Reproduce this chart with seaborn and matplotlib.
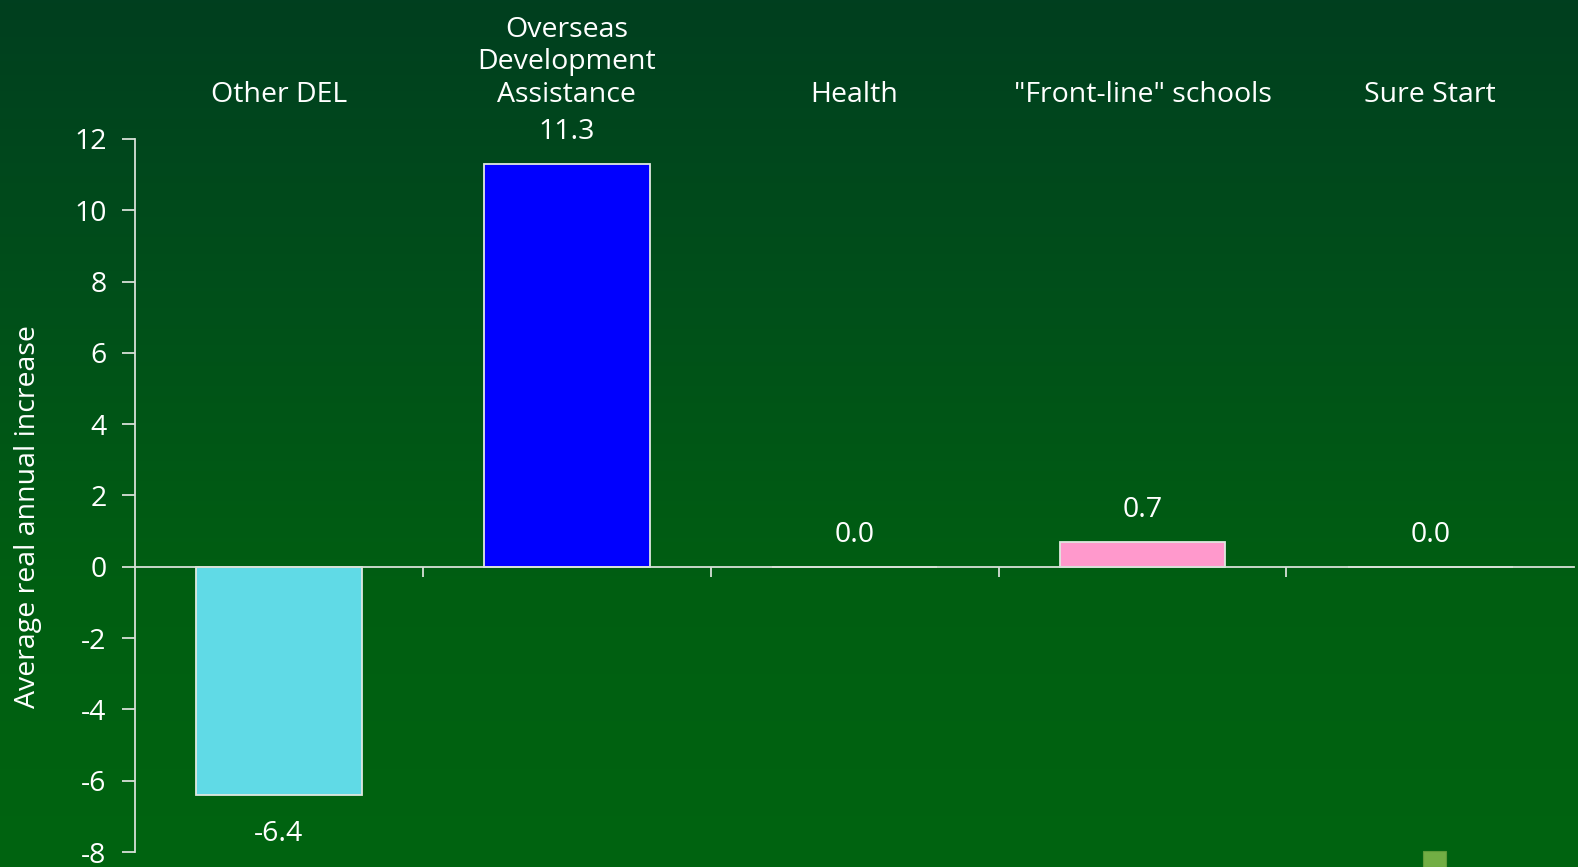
import matplotlib
matplotlib.use("Agg")
import matplotlib.pyplot as plt
import matplotlib.patches as mpatches
from matplotlib.colors import LinearSegmentedColormap
from matplotlib.ticker import FixedLocator, NullFormatter
import numpy as np
import pandas as pd
import seaborn as sns

# --- data ---
categories = ["Other DEL", "Overseas\nDevelopment\nAssistance", "Health",
              "\"Front-line\" schools", "Sure Start"]
values = [-6.4, 11.3, 0.0, 0.7, 0.0]
bar_colors = ["#60dae6", "#0000ff", "#60dae6", "#ff99cc", "#60dae6"]
y_ticks = [-8, -6, -4, -2, 0, 2, 4, 6, 8, 10, 12]

sns.set_style("white")
plt.rcParams["font.family"] = ["Open Sans", "DejaVu Sans"]
plt.rcParams["text.color"] = "white"

FS = 20.5
AXC = "#d8e0d8"

df = pd.DataFrame({"category": categories, "value": values})

fig = plt.figure(figsize=(15.78, 8.67), dpi=100)

# background gradient (dark green top -> brighter green bottom)
bg = fig.add_axes([0, 0, 1, 1], zorder=-10)
grad_cmap = LinearSegmentedColormap.from_list(
    "bg", ["#003f1f", "#004f1a", "#005e12", "#006410"])
bg.imshow(np.linspace(0, 1, 256).reshape(-1, 1), aspect="auto",
          cmap=grad_cmap, extent=[0, 1, 0, 1], origin="upper")
bg.set_axis_off()

ax = fig.add_axes([0.0856, 0.0173, 0.912, 0.8224])
ax.patch.set_alpha(0)

sns.barplot(data=df, x="category", y="value", hue="category",
            palette=dict(zip(categories, bar_colors)), legend=False,
            saturation=1, width=0.575, edgecolor="#e0e8e0", linewidth=1.3,
            ax=ax)

ax.set_xlim(-0.5, 4.5)
ax.set_ylim(-8, 12)
ax.set_yticks(y_ticks)
ax.set_yticklabels([str(t) for t in y_ticks], fontsize=FS, color="white")
ax.set_ylabel("Average real annual increase", fontsize=FS, color="white")
ax.yaxis.set_label_coords(-0.065, 0.47)

for s in ["top", "right"]:
    ax.spines[s].set_visible(False)
ax.spines["left"].set_color(AXC)
ax.spines["left"].set_linewidth(1.3)
ax.spines["bottom"].set_position(("data", 0))
ax.spines["bottom"].set_color(AXC)
ax.spines["bottom"].set_linewidth(1.3)

ax.tick_params(axis="y", left=True, direction="out", length=9.5, width=1.3,
               color=AXC, pad=11)
ax.xaxis.set_major_locator(FixedLocator([0.5, 1.5, 2.5, 3.5]))
ax.xaxis.set_major_formatter(NullFormatter())
ax.tick_params(axis="x", bottom=True, direction="out", length=7.5,
               width=1.3, color=AXC)
ax.set_xlabel("")

# category labels above the plot
for i, cat in enumerate(categories):
    ax.text(i, 12.85, cat, ha="center", va="bottom", fontsize=FS,
            color="white", linespacing=1.2)

# value labels
for i, v in enumerate(values):
    if v < 0:
        ax.text(i, v - 0.7, f"{v:.1f}", ha="center", va="top",
                fontsize=FS, color="white")
    else:
        ax.text(i, v + 0.5, f"{v:.1f}", ha="center", va="bottom",
                fontsize=FS, color="white")

# small decorative square at bottom right of the slide
fig.patches.append(mpatches.Rectangle(
    (1423 / 1578, 0), 23 / 1578, 16 / 867, transform=fig.transFigure,
    facecolor="#72ae44", edgecolor="#5f9a38", linewidth=0.8, zorder=5))

fig.savefig("out.png", dpi=100)
